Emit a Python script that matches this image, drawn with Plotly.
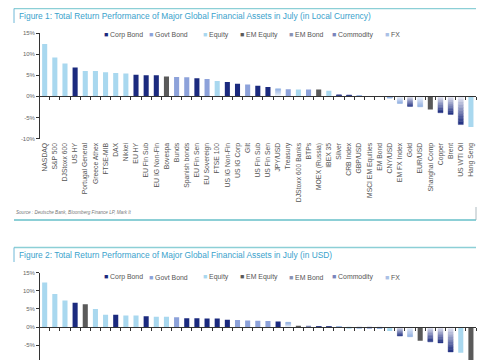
import plotly.graph_objects as go

# Page window is 485x360; the page body adds an 8px margin, so the figure is 477x352.
WIN_W, WIN_H = 485, 360
OFF = 8
FW, FH = WIN_W - OFF, WIN_H - OFF

# ---------------- data ----------------
categories_local = ["NASDAQ", "S&P 500", "DJStoxx 600", "US HY", "Portugal General", "Greece Athex",
                    "FTSE-MIB", "DAX", "Nikkei", "EU HY", "EU Fin Sub", "EU IG Non-Fin", "Bovespa",
                    "Bunds", "Spanish bonds", "EU Fin Sen", "EU Sovereign", "FTSE 100", "US IG Non-Fin",
                    "US IG Corp", "Gilt", "US Fin Sub", "US Fin Sen", "JPY/USD", "Treasury",
                    "DJStoxx 600 Banks", "BTPs", "MOEX (Russia)", "IBEX 35", "Silver", "CRB Index",
                    "GBP/USD", "MSCI EM Equities", "EM Bond", "CNY/USD", "EM FX Index", "Gold",
                    "EUR/USD", "Shanghai Comp", "Copper", "Brent", "US WTI Oil", "Hang Seng"]
values_local = [12.4, 9.2, 7.8, 6.8, 6.0, 6.0, 5.7, 5.5, 5.4, 5.1, 5.0, 5.0, 4.7,
                4.6, 4.5, 4.3, 4.1, 3.6, 3.4, 3.0, 2.8, 2.5, 2.2, 1.8, 1.7,
                1.6, 1.6, 1.6, 1.3, 0.3, 0.25, 0.1, 0.05, 0.05, -0.4, -1.7, -2.4,
                -2.5, -3.1, -3.9, -4.3, -6.7, -7.3]
classes_local = ["Equity", "Equity", "Equity", "Corp Bond", "Equity", "Equity", "Equity", "Equity",
                 "Equity", "Corp Bond", "Corp Bond", "Corp Bond", "EM Equity", "Govt Bond",
                 "Govt Bond", "Corp Bond", "Govt Bond", "Equity", "Corp Bond", "Corp Bond",
                 "Govt Bond", "Corp Bond", "Corp Bond", "FX", "Govt Bond", "Equity", "Govt Bond",
                 "EM Equity", "Equity", "Commodity", "Commodity", "FX", "EM Equity", "EM Bond",
                 "FX", "FX", "Commodity", "FX", "EM Equity", "Commodity", "Commodity",
                 "Commodity", "Equity"]

categories_usd = ["NASDAQ", "S&P 500", "Nikkei", "US HY", "Bovespa", "DJStoxx 600", "Portugal General",
                  "US IG Non-Fin", "Greece Athex", "FTSE-MIB", "US IG Corp", "DAX", "FTSE 100", "Gilt",
                  "US Fin Sub", "EU HY", "EU Fin Sub", "EU IG Non-Fin", "US Fin Sen", "Bunds",
                  "Spanish bonds", "Treasury", "EU Sovereign", "EU Fin Sen", "JPY/USD",
                  "MSCI EM Equities", "EM Bond", "Silver", "CRB Index", "GBP/USD", "DJStoxx 600 Banks",
                  "CNY/USD", "BTPs", "EM FX Index", "IBEX 35", "Gold", "EUR/USD", "Shanghai Comp",
                  "Copper", "Brent", "US WTI Oil", "Hang Seng", "MOEX (Russia)"]
values_usd = [12.3, 9.1, 7.3, 6.7, 6.3, 5.0, 3.4, 3.4, 3.2, 3.2, 3.0, 2.8, 2.8, 2.7,
              2.4, 2.4, 2.35, 2.35, 2.0, 1.9, 1.8, 1.75, 1.65, 1.5, 1.3,
              0.3, 0.2, 0.1, 0.05, 0.05, -0.2, -0.3, -0.5, -0.4, -1.1, -2.5, -2.7, -3.8,
              -4.1, -4.4, -6.9, -7.1, -10.5]
classes_usd = ["Equity", "Equity", "Equity", "Corp Bond", "EM Equity", "Equity", "Equity",
               "Corp Bond", "Equity", "Equity", "Corp Bond", "Equity", "Equity", "Govt Bond",
               "Corp Bond", "Corp Bond", "Corp Bond", "Corp Bond", "Corp Bond", "Govt Bond",
               "Govt Bond", "Govt Bond", "Govt Bond", "Corp Bond", "FX", "EM Equity", "EM Bond",
               "Commodity", "Commodity", "FX", "Equity", "FX", "Govt Bond", "FX", "Equity",
               "Commodity", "FX", "EM Equity", "Commodity", "Commodity", "Commodity", "Equity",
               "EM Equity"]

legend_labels = ["Corp Bond", "Govt Bond", "Equity", "EM Equity", "EM Bond", "Commodity", "FX"]
y_tick_values = [-10, -5, 0, 5, 10, 15]
y_tick_labels = ["-10%", "-5%", "0%", "5%", "10%", "15%"]

title_1 = "Figure 1: Total Return Performance of Major Global Financial Assets in July (in Local Currency)"
title_2 = "Figure 2: Total Return Performance of Major Global Financial Assets in July (in USD)"
source_text = "Source : Deutsche Bank, Bloomberg Finance LP, Mark It"

# ---------------- styles ----------------
FONT = "Liberation Sans, Arial, sans-serif"
solid_colors = {"Corp Bond": "#1b2a7e", "Govt Bond": "#8da2da", "Equity": "#a9d8ef",
                "EM Equity": "#5a5a5a", "EM Bond": "#7d88b4"}
gradient_colors = {"Commodity": ((238, 240, 249), (27, 42, 126)),
                   "FX": ((242, 246, 252), (140, 172, 224))}
swatch_colors = {"Corp Bond": "#1b2a7e", "Govt Bond": "#8da2da", "Equity": "#a9d8ef",
                 "EM Equity": "#5a5a5a", "EM Bond": "#8a92b4", "Commodity": "#7a84bc",
                 "FX": "#aac0e6"}
N_SEG = 10
TEAL = "#8ccfd6"
TITLE_COLOR = "#3aa2cc"


def px(x):
    """window pixel x -> paper fraction"""
    return (x - OFF) / FW


def py(y):
    """window pixel y -> paper fraction"""
    return 1 - (y - OFF) / FH


def mix(c0, c1, t):
    return "rgb(%d,%d,%d)" % tuple(round(a + (b - a) * t) for a, b in zip(c0, c1))


fig = go.Figure()


def add_bars(cats, vals, classes, xa, ya):
    for cls, col in solid_colors.items():
        ys = [v if c == cls else None for v, c in zip(vals, classes)]
        fig.add_trace(go.Bar(x=cats, y=ys, marker=dict(color=col, line=dict(width=0)),
                             xaxis=xa, yaxis=ya, showlegend=False, hoverinfo="x+y"))
    for cls, (c0, c1) in gradient_colors.items():
        for k in range(N_SEG):
            col = mix(c0, c1, (k + 0.5) / N_SEG)
            ys = [v / N_SEG if c == cls else None for v, c in zip(vals, classes)]
            fig.add_trace(go.Bar(x=cats, y=ys, marker=dict(color=col, line=dict(color=col, width=0.4)),
                                 xaxis=xa, yaxis=ya, showlegend=False, hoverinfo="skip"))


add_bars(categories_local, values_local, classes_local, "x", "y")
add_bars(categories_usd, values_usd, classes_usd, "x2", "y2")
# anchors for the zero-line axes
fig.add_trace(go.Scatter(x=[0], y=[0], xaxis="x3", yaxis="y", mode="markers",
                         marker=dict(opacity=0), showlegend=False, hoverinfo="skip"))
fig.add_trace(go.Scatter(x=[0], y=[0], xaxis="x4", yaxis="y2", mode="markers",
                         marker=dict(opacity=0), showlegend=False, hoverinfo="skip"))

x_dom = [px(39.6), px(476)]
y1_rng = [-10, 15]
y1_dom = [py(138.5), py(33)]
y2_rng = [15 - (WIN_H - 272.7) / 3.62, 15]
y2_dom = [0, py(272.7)]


def zero_pos(dom, rng):
    return dom[0] + (0 - rng[0]) / (rng[1] - rng[0]) * (dom[1] - dom[0])


n = len(categories_local)
cat_axis = dict(domain=x_dom, type="category", range=[-0.5, n - 0.5], showline=False,
                ticks="", showgrid=False, zeroline=False, tickangle=-90, automargin=False,
                tickfont=dict(family=FONT, size=6.8, color="#555555"), fixedrange=True)
zero_axis = dict(domain=x_dom, type="linear", range=[-0.5, n - 0.5], anchor="free",
                 tickvals=[i - 0.5 for i in range(n + 1)], ticks="outside", ticklen=2.5,
                 tickwidth=1, tickcolor="#333333", showline=True, linecolor="#333333", linewidth=1,
                 showticklabels=False, showgrid=False, zeroline=False, fixedrange=True,
                 automargin=False)
val_axis = dict(tickvals=y_tick_values, ticktext=y_tick_labels, ticks="outside", ticklen=2.5,
                tickcolor="#333333", showline=True, linecolor="#333333", linewidth=1,
                showgrid=False, zeroline=False, tickfont=dict(family=FONT, size=6.0, color="#666666"),
                fixedrange=True, automargin=False)

fig.update_layout(
    width=FW, height=FH, margin=dict(l=0, r=0, t=0, b=0, autoexpand=False),
    paper_bgcolor="white", plot_bgcolor="rgba(0,0,0,0)",
    barmode="relative", bargap=0.5, showlegend=False,
    xaxis=dict(cat_axis, anchor="y", categoryorder="array", categoryarray=categories_local,
               ticklabelstandoff=2),
    xaxis2=dict(cat_axis, anchor="y2", categoryorder="array", categoryarray=categories_usd,
                showticklabels=False),
    xaxis3=dict(zero_axis, overlaying="x", position=zero_pos(y1_dom, y1_rng)),
    xaxis4=dict(zero_axis, overlaying="x2", position=zero_pos(y2_dom, y2_rng)),
    yaxis=dict(val_axis, domain=y1_dom, range=y1_rng, anchor="x"),
    yaxis2=dict(val_axis, domain=y2_dom, range=y2_rng, anchor="x2"),
)

annotations = []
shapes = []
legend_x = [102, 147, 201, 238, 287, 330, 383]
for title, top, leg_y in [(title_1, 8.5, 35), (title_2, 247.5, 277.3)]:
    shapes.append(dict(type="line", xref="paper", yref="paper", x0=px(14), x1=px(476),
                       y0=py(top), y1=py(top), line=dict(color=TEAL, width=1.5)))
    shapes.append(dict(type="line", xref="paper", yref="paper", x0=px(14), x1=px(14),
                       y0=py(top), y1=py(top + 14.5), line=dict(color="#6fb8d8", width=1)))
    annotations.append(dict(text=title, xref="paper", yref="paper", x=px(16.5), y=py(top + 7.5),
                            xanchor="left", yanchor="middle", showarrow=False,
                            font=dict(family=FONT, size=8.4, color=TITLE_COLOR)))
    for lx, lab in zip(legend_x, legend_labels):
        annotations.append(dict(
            text='<span style="color:%s">■</span> %s' % (swatch_colors[lab], lab),
            xref="paper", yref="paper", x=px(lx), y=py(leg_y), xanchor="left", yanchor="middle",
            showarrow=False, font=dict(family=FONT, size=6.9, color="#555555")))

annotations.append(dict(text="<i>" + source_text + "</i>", xref="paper", yref="paper",
                        x=px(14), y=py(212.5), xanchor="left", yanchor="middle", showarrow=False,
                        font=dict(family=FONT, size=4.6, color="#777777")))
shapes.append(dict(type="line", xref="paper", yref="paper", x0=px(14), x1=px(476),
                   y0=py(220), y1=py(220), line=dict(color=TEAL, width=2)))
shapes.append(dict(type="line", xref="paper", yref="paper", x0=px(476), x1=px(476),
                   y0=py(207), y1=py(220), line=dict(color="#9aaab0", width=0.8)))

fig.update_layout(annotations=annotations, shapes=shapes)

fig.write_html("out.html")
